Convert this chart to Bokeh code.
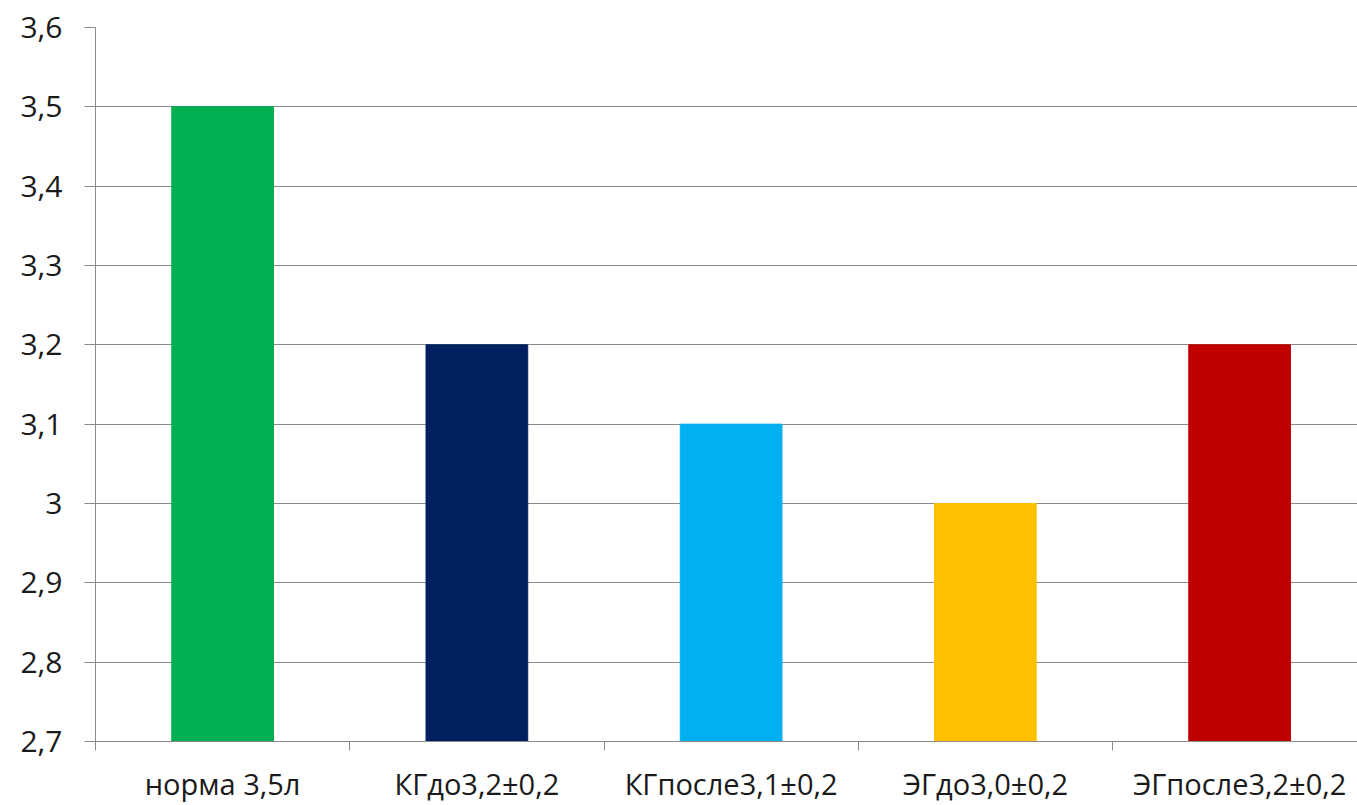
from bokeh.plotting import figure
from bokeh.models import ColumnDataSource, Range1d, FixedTicker
from bokeh.embed import file_html
from bokeh.resources import INLINE

# Data
categories = ["норма 3,5л", "КГдо3,2±0,2", "КГпосле3,1±0,2", "ЭГдо3,0±0,2", "ЭГпосле3,2±0,2"]
values = [3.5, 3.2, 3.1, 3.0, 3.2]
colors = ["#00B050", "#002060", "#00B0F0", "#FFC000", "#C00000"]
y_ticks = [2.7, 2.8, 2.9, 3.0, 3.1, 3.2, 3.3, 3.4, 3.5, 3.6]
y_tick_labels = ["2,7", "2,8", "2,9", "3", "3,1", "3,2", "3,3", "3,4", "3,5", "3,6"]

y_min, y_max = 2.7, 3.6
FONT = "Open Sans"
GRID = "#8a8a8a"

centers = [i + 0.5 for i in range(len(categories))]
source = ColumnDataSource(dict(x=centers, top=values, color=colors))

p = figure(width=1357, height=805, output_backend="svg", toolbar_location=None,
           x_range=Range1d(0, 1262 / 254.25), y_range=Range1d(y_min, y_max),
           min_border_left=95, min_border_right=0, min_border_top=27, min_border_bottom=62)
p.outline_line_color = None
p.background_fill_color = "white"

p.vbar(x="x", top="top", bottom=y_min, width=0.4, color="color", source=source)

# x axis: labels at category centres, tick marks at category boundaries
xa = p.xaxis[0]
xa.ticker = FixedTicker(ticks=centers, minor_ticks=list(range(len(categories) + 1)))
xa.major_label_overrides = {c: lab for c, lab in zip(centers, categories)}
xa.major_tick_out = 0
xa.major_tick_in = 0
xa.minor_tick_out = 9
xa.minor_tick_in = 0
xa.minor_tick_line_color = GRID
xa.axis_line_color = GRID
xa.major_label_text_font = FONT
xa.major_label_text_font_size = "29px"
xa.major_label_text_color = "#1a1a1a"
xa.major_label_standoff = 13

# y axis
ya = p.yaxis[0]
ya.ticker = FixedTicker(ticks=y_ticks, minor_ticks=[])
ya.major_label_overrides = {t: lab for t, lab in zip(y_ticks, y_tick_labels)}
ya.major_tick_out = 11
ya.major_tick_in = 0
ya.major_tick_line_color = GRID
ya.axis_line_color = GRID
ya.major_label_text_font = FONT
ya.major_label_text_font_size = "30px"
ya.major_label_text_color = "#1a1a1a"
ya.major_label_standoff = 22

p.xgrid.grid_line_color = None
p.ygrid.grid_line_color = GRID
p.ygrid.grid_line_width = 1
p.ygrid.ticker = FixedTicker(ticks=y_ticks)

open("out.html", "w").write(file_html(p, INLINE))
